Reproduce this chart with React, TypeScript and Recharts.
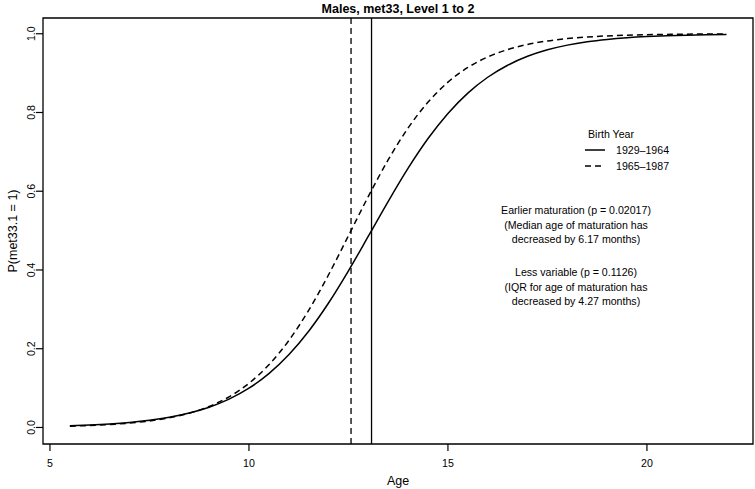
import React from "react";
import { LineChart, Line, XAxis, YAxis, ReferenceLine, ReferenceArea } from "recharts";

const ages = [
  5.5, 6, 6.5, 7, 7.5, 8, 8.5, 9, 9.5, 10, 10.5, 11, 11.5, 12, 12.5, 13, 13.5,
  14, 14.5, 15, 15.5, 16, 16.5, 17, 17.5, 18, 18.5, 19, 19.5, 20, 20.5, 21,
  21.5, 22,
];

// Birth year 1929-1964 (solid)
const early = [
  0.0044, 0.0063, 0.009, 0.0128, 0.0182, 0.0259, 0.0366, 0.0515, 0.0719,
  0.0997, 0.1367, 0.1845, 0.2444, 0.3161, 0.3979, 0.4857, 0.5744, 0.6586,
  0.7338, 0.7976, 0.8493, 0.8895, 0.92, 0.9427, 0.9592, 0.9711, 0.9796,
  0.9856, 0.9899, 0.9929, 0.995, 0.9965, 0.9976, 0.9983,
];

// Birth year 1965-1987 (dashed)
const late = [
  0.0033, 0.005, 0.0075, 0.0111, 0.0166, 0.0246, 0.0363, 0.0534, 0.0778,
  0.1122, 0.1591, 0.2206, 0.2975, 0.3879, 0.487, 0.5869, 0.68, 0.7608,
  0.8264, 0.877, 0.9143, 0.941, 0.9598, 0.9728, 0.9817, 0.9877, 0.9917,
  0.9945, 0.9963, 0.9975, 0.9983, 0.9989, 0.9993, 0.9995,
];

// median ages of maturation
const medianEarly = 13.08;
const medianLate = 12.565;

const xTicks = [5, 10, 15, 20];
const yTicks = [0, 0.2, 0.4, 0.6, 0.8, 1.0];
const xDomain: [number, number] = [4.825, 22.665];
const yDomain: [number, number] = [-0.042, 1.04];

const seriesNames = ["1929\u20131964", "1965\u20131987"];
const notes = [
  "Earlier maturation (p = 0.02017)",
  "(Median age of maturation has",
  "decreased by 6.17 months)",
  "Less variable (p = 0.1126)",
  "(IQR for age of maturation has",
  "decreased by 4.27 months)",
];

const rows = ages.map((age, i) => ({ age, early: early[i], late: late[i] }));

const FONT = '"Liberation Sans", Arial, Helvetica, sans-serif';
const DASH = "6 4";

function XTick({ x, payload }: any) {
  return (
    <text x={x} y={467} textAnchor="middle" fontSize={10.6} fontFamily={FONT} fill="#000">
      {payload.value}
    </text>
  );
}

function YTick({ y, payload }: any) {
  const cx = 31.5;
  return (
    <text
      x={cx}
      y={y}
      transform={`rotate(-90 ${cx} ${y})`}
      textAnchor="middle"
      dominantBaseline="central"
      fontSize={10.6}
      fontFamily={FONT}
      fill="#000"
    >
      {Number(payload.value).toFixed(1)}
    </text>
  );
}

const noteTops = [210, 224.5, 238.5, 272, 286.5, 300.5];

export default function App() {
  return (
    <div style={{ position: "absolute", left: 0, top: 0, width: 755, height: 489, background: "#fff", fontFamily: FONT, color: "#000" }}>
      <LineChart width={755} height={489} data={rows} margin={{ top: 18, right: 2, bottom: 0, left: 0 }}>
        <ReferenceArea
          x1={xDomain[0]}
          x2={xDomain[1]}
          y1={yDomain[0]}
          y2={yDomain[1]}
          fill="none"
          fillOpacity={0}
          stroke="#000"
          strokeWidth={1.3}
        />
        <XAxis
          dataKey="age"
          type="number"
          domain={xDomain}
          ticks={xTicks}
          allowDataOverflow
          axisLine={false}
          tickSize={7}
          tickLine={{ stroke: "#000", strokeWidth: 1.2 }}
          tick={<XTick />}
          height={45}
          interval={0}
        />
        <YAxis
          type="number"
          domain={yDomain}
          ticks={yTicks}
          allowDataOverflow
          axisLine={false}
          tickSize={7}
          tickLine={{ stroke: "#000", strokeWidth: 1.2 }}
          tick={<YTick />}
          width={43}
          interval={0}
        />
        <ReferenceLine x={medianLate} stroke="#000" strokeWidth={1.3} strokeDasharray={DASH} />
        <ReferenceLine x={medianEarly} stroke="#000" strokeWidth={1.3} />
        <Line type="monotone" dataKey="early" stroke="#000" strokeWidth={1.5} dot={false} isAnimationActive={false} />
        <Line type="monotone" dataKey="late" stroke="#000" strokeWidth={1.5} strokeDasharray={DASH} dot={false} isAnimationActive={false} />
      </LineChart>

      <div style={{ position: "absolute", left: 0, width: 755, top: 2, textAlign: "center", paddingLeft: 41, boxSizing: "border-box", fontWeight: "bold", fontSize: 12.5, lineHeight: "15px" }}>
        Males, met33, Level 1 to 2
      </div>
      <div style={{ position: "absolute", left: 43, width: 710, top: 473, textAlign: "center", fontSize: 12.5, lineHeight: "16px" }}>
        Age
      </div>
      <div
        style={{
          position: "absolute",
          left: 13 - 100,
          top: 231 - 8,
          width: 200,
          height: 16,
          lineHeight: "16px",
          textAlign: "center",
          fontSize: 12.5,
          transform: "rotate(-90deg)",
        }}
      >
        P(met33.1 = 1)
      </div>

      <div style={{ position: "absolute", left: 561, width: 100, top: 127, textAlign: "center", fontSize: 10.6, lineHeight: "14px" }}>
        Birth Year
      </div>
      {seriesNames.map((name, i) => (
        <div key={name} style={{ position: "absolute", left: 584, top: 143 + i * 16, height: 14, display: "flex", alignItems: "center", fontSize: 10.6 }}>
          <svg width={22} height={14} style={{ display: "block" }}>
            <line x1={1} x2={21} y1={7} y2={7} stroke="#000" strokeWidth={1.5} strokeDasharray={i === 1 ? "6 4" : undefined} />
          </svg>
          <span style={{ marginLeft: 10, lineHeight: "14px" }}>{name}</span>
        </div>
      ))}

      {notes.map((line, i) => (
        <div key={line} style={{ position: "absolute", left: 476, width: 200, top: noteTops[i] - 7, textAlign: "center", fontSize: 10.6, lineHeight: "14px", whiteSpace: "nowrap" }}>
          {line}
        </div>
      ))}
    </div>
  );
}
